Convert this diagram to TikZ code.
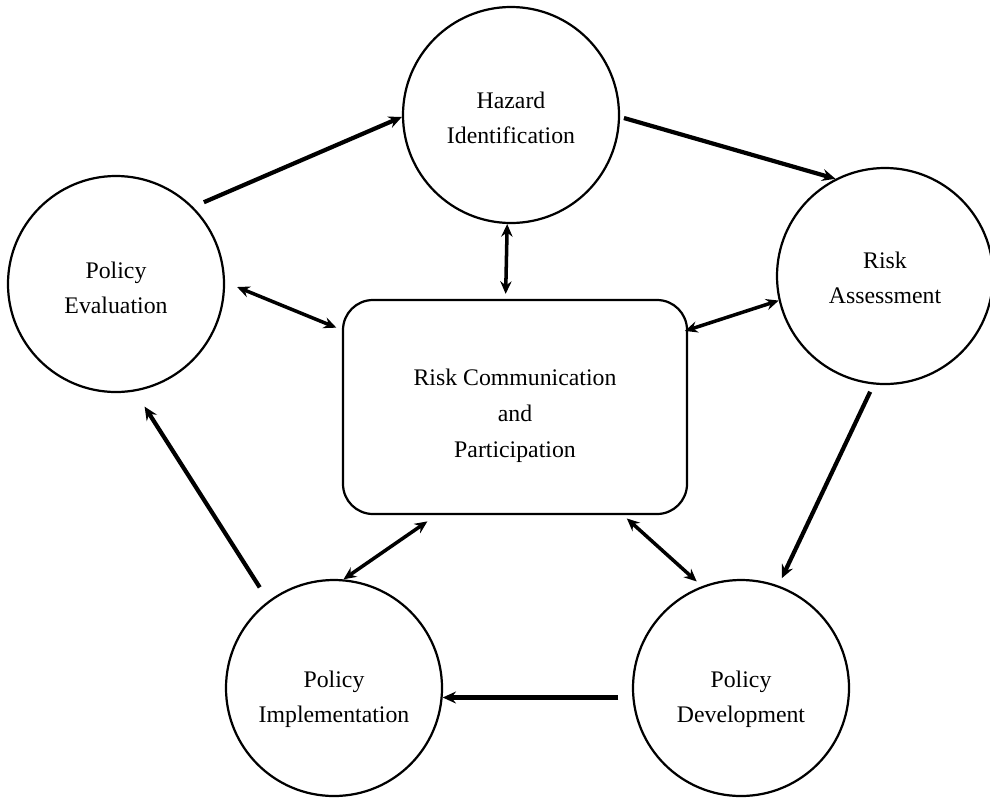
\documentclass[tikz,border=0pt]{standalone}
\usepackage{fontspec}
\setmainfont{Liberation Serif}
\usetikzlibrary{arrows.meta}

% ligne d'appui invisible pour descendre le texte dans les cercles
\newcommand{\decale}[1]{\rule{0pt}{#1}}

\tikzset{
  etape/.style={draw, circle, line width=1.9pt, minimum size=64.8mm,
    inner sep=0pt, align=center, font=\fontsize{20.3}{29.5}\selectfont},
  centre/.style={draw, rectangle, rounded corners=9mm, line width=1.9pt,
    minimum width=103.2mm, minimum height=64.2mm, align=center,
    font=\fontsize{20.3}{30.5}\selectfont},
  fleche/.style={line width=3.6pt,
    -{Stealth[length=4mm,width=3.6mm,inset=1.4mm]}},
  fleches/.style={line width=3pt,
    {Stealth[length=3.8mm,width=3.4mm,inset=1.3mm]}-{Stealth[length=3.8mm,width=3.4mm,inset=1.3mm]}}
}

\begin{document}
\begin{tikzpicture}[x=0.3mm,y=-0.3mm]
\useasboundingbox (0,0) rectangle (990,797);

% les cinq etapes et le centre
\node[etape] (hazard) at (511,115) {\decale{19pt}Hazard\\Identification};
\node[etape] (risk) at (885,276) {\decale{17pt}Risk\\Assessment};
\node[etape] (dev) at (741,688) {\decale{33pt}Policy\\Development};
\node[etape] (impl) at (334,688) {\decale{33pt}Policy\\Implementation};
\node[etape] (eval) at (116,284) {\decale{21pt}Policy\\Evaluation};
\node[centre] (comm) at (515,407)
  {\decale{29pt}Risk Communication\\and\\Participation};

% le cycle
\draw[fleche, shorten <=3.5mm] (eval.45) -- (hazard.181);
\draw[fleche, shorten <=1.2mm] (hazard.-1) -- (risk.117);
\draw[fleche, shorten <=2.4mm, shorten >=2.4mm] (risk.-96) -- (dev.70);
\draw[fleche, shorten <=4.2mm] (dev.185) -- (impl.-5);
\draw[fleche, shorten <=4.8mm, shorten >=5.4mm] (impl.127) -- (eval.-80);

% echanges avec le centre
\draw[fleches, shorten >=1.5mm] (hazard.-92) -- (comm.95);
\draw[fleches, shorten <=3.9mm, shorten >=1.8mm] (eval.1) -- (comm.156);
\draw[fleches, shorten >=-1mm] (risk.193) -- (comm.24);
\draw[fleches, shorten <=3.3mm] (comm.234) -- (impl.85);
\draw[fleches, shorten <=1.5mm, shorten >=2.1mm] (comm.-45) -- (dev.111);

%\draw[help lines] (0,0) grid[step=50] (990,797);
\end{tikzpicture}
\end{document}
